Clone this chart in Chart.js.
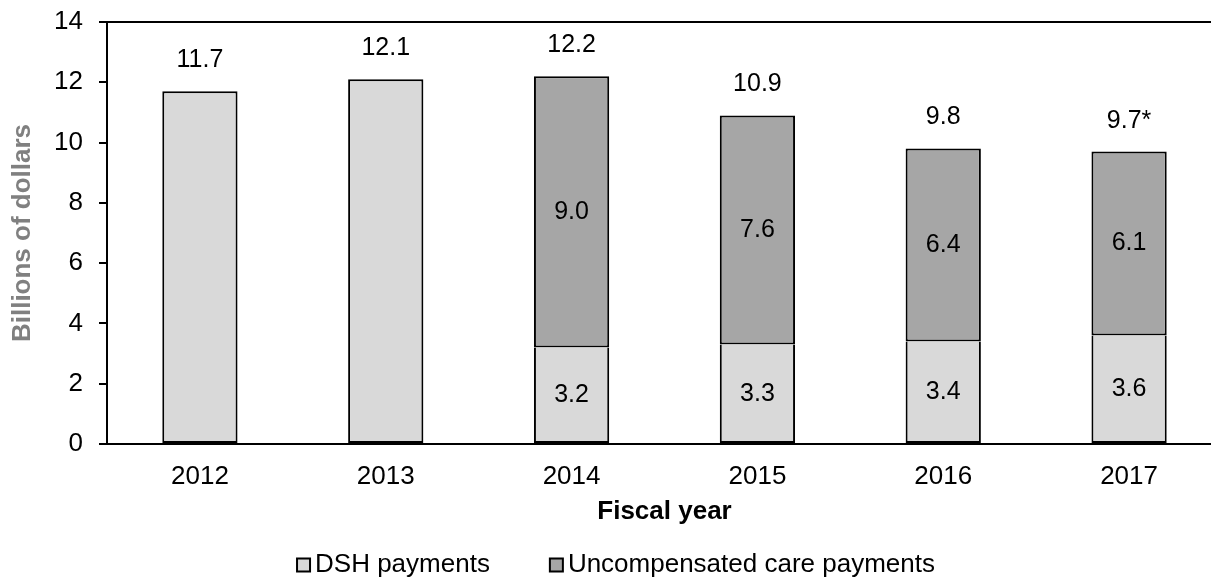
<!DOCTYPE html>
<html>
<head>
<meta charset="utf-8">
<script src="https://cdn.jsdelivr.net/npm/chart.js@4"></script>
<style>
  html, body { margin: 0; padding: 0; background: #fff; overflow: hidden; }
  #wrap { width: 1222px; height: 580px; position: relative; }
</style>
</head>
<body>
<div id="wrap"><canvas id="grafico"></canvas></div>
<script>
// Anos fiscais e pagamentos (bilhões de dólares)
const anos = ['2012', '2013', '2014', '2015', '2016', '2017'];
const dsh = [11.7, 12.1, 3.2, 3.3, 3.4, 3.6];
const naoCompensado = [null, null, 9.0, 7.6, 6.4, 6.1];
const notaTotal = ['', '', '', '', '', '*'];
const ticksY = [0, 2, 4, 6, 8, 10, 12, 14];

const FONTE = '"Liberation Sans", Arial, sans-serif';
const TAM = 26;
const TAM_ROTULO = 25;

const cores = { dsh: '#d9d9d9', naoCompensado: '#a6a6a6' };

// Rótulos dentro das barras empilhadas e total acima de cada coluna
const rotulos = {
  id: 'rotulos',
  afterDatasetsDraw(chart) {
    const ctx = chart.ctx;
    const y = chart.scales.y;
    ctx.save();
    ctx.font = TAM_ROTULO + 'px ' + FONTE;
    ctx.fillStyle = '#000';
    ctx.textAlign = 'center';
    ctx.textBaseline = 'middle';
    anos.forEach((ano, i) => {
      const barra = chart.getDatasetMeta(0).data[i];
      if (naoCompensado[i] != null) {
        [0, 1].forEach(d => {
          const el = chart.getDatasetMeta(d).data[i];
          const v = chart.data.datasets[d].data[i];
          ctx.fillText(v.toFixed(1), el.x, (el.y + el.base) / 2);
        });
      }
      const total = dsh[i] + (naoCompensado[i] || 0);
      ctx.fillText(total.toFixed(1) + notaTotal[i], barra.x, y.getPixelForValue(total) - 31);
    });
    ctx.restore();
  }
};

// Legenda desenhada no rodapé: quadrado com borda, texto logo ao lado
const legenda = {
  id: 'legenda',
  afterDraw(chart) {
    const ctx = chart.ctx;
    const itens = chart.data.datasets.map(ds => ({ texto: ds.label, cor: ds.backgroundColor }));
    const lado = 13, folga = 5, entre = 60, centroX = 616, centroY = 565;
    ctx.save();
    ctx.font = TAM + 'px ' + FONTE;
    ctx.textBaseline = 'middle';
    ctx.textAlign = 'left';
    const larguras = itens.map(it => ctx.measureText(it.texto).width);
    const total = larguras.reduce((s, w) => s + lado + folga + w, 0) + entre * (itens.length - 1);
    let x = centroX - total / 2;
    itens.forEach((it, i) => {
      ctx.fillStyle = it.cor;
      ctx.fillRect(x, centroY - lado / 2, lado, lado);
      ctx.strokeStyle = '#000';
      ctx.lineWidth = 2;
      ctx.strokeRect(x, centroY - lado / 2, lado, lado);
      ctx.fillStyle = '#000';
      ctx.fillText(it.texto, x + lado + folga, centroY);
      x += lado + folga + larguras[i] + entre;
    });
    ctx.restore();
  }
};

new Chart(document.getElementById('grafico'), {
  type: 'bar',
  data: {
    labels: anos,
    datasets: [
      {
        label: 'DSH payments',
        data: dsh,
        backgroundColor: cores.dsh,
        borderColor: '#000',
        // sem borda no topo quando a barra escura fica por cima
        borderWidth: c => ({ left: 2, right: 2, bottom: 2, top: naoCompensado[c.dataIndex] != null ? 0 : 2 }),
        borderSkipped: false
      },
      {
        label: 'Uncompensated care payments',
        data: naoCompensado,
        backgroundColor: cores.naoCompensado,
        borderColor: '#000',
        borderWidth: 2,
        borderSkipped: false
      }
    ]
  },
  options: {
    responsive: true,
    maintainAspectRatio: false,
    animation: false,
    datasets: { bar: { barPercentage: 0.405, categoryPercentage: 1.0 } },
    layout: { padding: { top: 22, left: 0, right: 0, bottom: 48 } },
    plugins: {
      tooltip: { enabled: false },
      legend: { display: false }
    },
    scales: {
      x: {
        stacked: true,
        grid: { display: false, drawTicks: false },
        border: { display: true, color: '#000', width: 2 },
        ticks: { color: '#000', font: { family: FONTE, size: TAM }, padding: 17 },
        title: {
          display: true,
          text: 'Fiscal year',
          color: '#000',
          font: { family: FONTE, size: TAM, weight: 'bold' },
          padding: { top: 4, bottom: 5 }
        },
        afterFit(scale) { scale.height = 88; }
      },
      y: {
        stacked: true,
        min: 0,
        max: 14,
        afterBuildTicks(scale) { scale.ticks = ticksY.map(v => ({ value: v })); },
        grid: {
          drawOnChartArea: true,
          color: c => (c.tick && c.tick.value === 14 ? '#000' : 'rgba(0,0,0,0)'),
          lineWidth: 2,
          drawTicks: true,
          tickLength: 8,
          tickColor: '#000',
          tickWidth: 2
        },
        border: { display: true, color: '#000', width: 2 },
        ticks: { color: '#000', font: { family: FONTE, size: TAM }, padding: 16 },
        title: {
          display: true,
          text: 'Billions of dollars',
          color: '#808080',
          font: { family: FONTE, size: TAM, weight: 'bold' },
          padding: { top: 7, bottom: 0 }
        },
        afterFit(scale) {
          scale.width = 107;
          // o topo do eixo fica no padding do layout
          scale.paddingTop = 0;
          scale.paddingBottom = 0;
        }
      }
    }
  },
  plugins: [rotulos, legenda]
});
</script>
</body>
</html>
